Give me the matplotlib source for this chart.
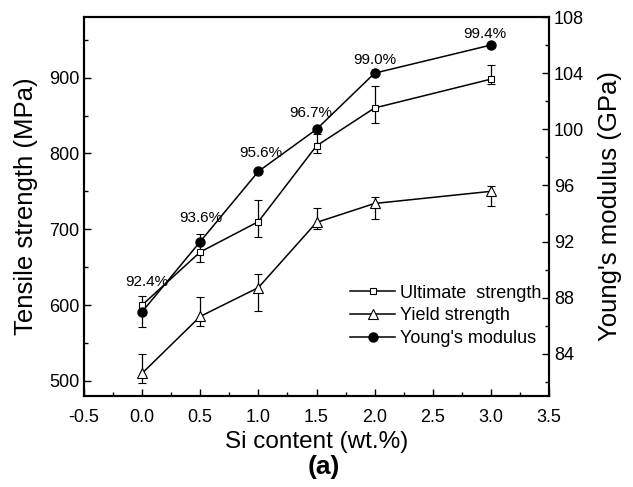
import matplotlib
matplotlib.use("Agg")
import matplotlib.pyplot as plt
from matplotlib.lines import Line2D
from matplotlib.ticker import MultipleLocator

plt.rcParams['font.family'] = ['Liberation Sans', 'DejaVu Sans']
plt.rcParams['axes.unicode_minus'] = False

# Si content (wt.%)
si = [0.0, 0.5, 1.0, 1.5, 2.0, 3.0]

# Ultimate tensile strength (MPa) with asymmetric error bars
uts = [600, 670, 710, 810, 860, 898]
uts_err_lo = [29, 13, 20, 10, 20, 7]
uts_err_hi = [12, 24, 29, 16, 29, 19]

# Yield strength (MPa) with asymmetric error bars
ys = [510, 585, 623, 709, 734, 750]
ys_err_lo = [13, 13, 31, 9, 21, 20]
ys_err_hi = [26, 25, 18, 19, 8, 7]

# Young's modulus (GPa)
modulus = [87.0, 92.0, 97.0, 100.0, 104.0, 106.0]

# Relative density labels
density = ['92.4%', '93.6%', '95.6%', '96.7%', '99.0%', '99.4%']
label_offsets = [(3.6, 18.7), (0.7, 14.4), (1.4, 10.1), (-4.3, 9.1), (0.0, 6.5), (-4.3, 4.8)]

fig = plt.figure(figsize=(6.33, 4.87), dpi=100)
ax = fig.add_axes([84 / 633, 1 - 396 / 487, (549 - 84) / 633, (396 - 17) / 487])

lw = 1.1
sq_style = dict(marker='s', ms=5, mfc='white', mec='black', mew=0.8)
tri_style = dict(marker='^', ms=7, mfc='white', mec='black', mew=0.8)
dot_style = dict(marker='o', ms=6.5, mfc='black', mec='black')

ax.errorbar(si, uts, yerr=[uts_err_lo, uts_err_hi], color='black', lw=lw,
            ecolor='black', elinewidth=0.9, capsize=3, capthick=0.9, **sq_style)
ax.errorbar(si, ys, yerr=[ys_err_lo, ys_err_hi], color='black', lw=lw,
            ecolor='black', elinewidth=0.9, capsize=3, capthick=0.9, **tri_style)

ax.set_xlim(-0.5, 3.5)
ax.set_ylim(480, 980)
ax.xaxis.set_major_locator(MultipleLocator(0.5))
ax.xaxis.set_minor_locator(MultipleLocator(0.25))
ax.yaxis.set_major_locator(MultipleLocator(100))
ax.yaxis.set_minor_locator(MultipleLocator(50))
ax.tick_params(which='both', direction='in', top=False, right=False, width=1.0,
               labelsize=13)
ax.tick_params(which='major', length=5)
ax.tick_params(which='minor', length=3)
ax.tick_params(axis='x', which='major', pad=9)
ax.set_xlabel('Si content (wt.%)', fontsize=17.5, labelpad=4)
ax.set_ylabel('Tensile strength (MPa)', fontsize=18.5, labelpad=8)

ax2 = ax.twinx()
ax2.plot(si, modulus, color='black', lw=lw, **dot_style)
ax2.set_ylim(81, 108)
ax2.yaxis.set_major_locator(MultipleLocator(4))
ax2.yaxis.set_minor_locator(MultipleLocator(2))
ax2.tick_params(which='both', direction='in', width=1.0, labelsize=13)
ax2.tick_params(which='major', length=5)
ax2.tick_params(which='minor', length=3)
ax2.set_ylabel("Young's modulus (GPa)", fontsize=18.5, labelpad=10)

for x, m, txt, (dx, dy) in zip(si, modulus, density, label_offsets):
    ax2.annotate(txt, (x, m), xytext=(dx, dy), textcoords='offset points',
                 ha='center', va='baseline', fontsize=11)

for a in (ax, ax2):
    for s in a.spines.values():
        s.set_linewidth(1.5)

handles = [
    Line2D([], [], color='black', lw=lw, **sq_style),
    Line2D([], [], color='black', lw=lw, **tri_style),
    Line2D([], [], color='black', lw=lw, **dot_style),
]
labels = ['Ultimate  strength', 'Yield strength', "Young's modulus"]
ax2.legend(handles, labels, loc='center left',
           bbox_to_anchor=(350 / 633, 1 - 316 / 487), bbox_transform=fig.transFigure,
           frameon=False, fontsize=13, handlelength=2.5, handletextpad=0.25,
           labelspacing=0.32, borderpad=0, borderaxespad=0)

fig.text(324 / 633, 1 - 467 / 487, '(a)', ha='center', va='center',
         fontsize=19, fontweight='bold')

fig.savefig('out.png', dpi=100)
